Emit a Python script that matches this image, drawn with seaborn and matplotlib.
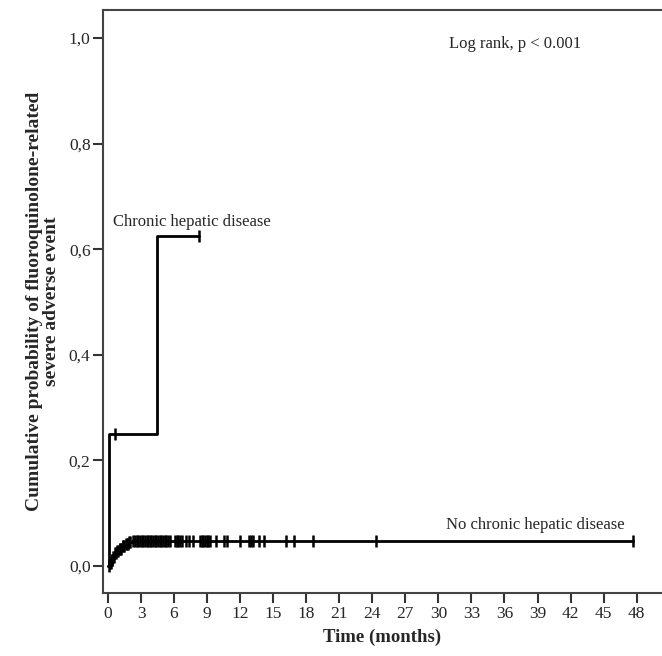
import numpy as np
import pandas as pd
import matplotlib
matplotlib.use("Agg")
import matplotlib.pyplot as plt
import seaborn as sns

# Kaplan-Meier style cumulative incidence curves (step functions)
chronic_times = [0.0, 0.12, 4.45, 8.3]
chronic_probs = [0.0, 0.25, 0.625, 0.625]
chronic_censored = [0.6, 8.3]

no_chronic_times = [0.0, 0.15, 0.3, 0.45, 0.6, 0.8, 1.0, 1.3, 1.6, 1.9, 2.2, 47.7]
no_chronic_probs = [0.0, 0.006, 0.012, 0.018, 0.025, 0.029, 0.033, 0.038, 0.042, 0.045, 0.048, 0.048]
no_chronic_censored = [
    0.1, 0.2, 0.25, 0.35, 0.4, 0.5, 0.55, 0.65, 0.7, 0.85, 0.9, 1.05, 1.1, 1.2,
    1.35, 1.4, 1.5, 1.65, 1.7, 1.8, 1.95, 2.0,
    2.3, 2.45, 2.6, 2.75, 2.9, 3.05, 3.2, 3.35, 3.5, 3.65, 3.8, 3.95, 4.1,
    4.25, 4.4, 4.55, 4.7, 4.85, 5.0, 5.15, 5.3, 5.45, 5.6,
    6.1, 6.25, 6.4, 6.55, 6.7, 7.1, 7.4, 7.7,
    8.35, 8.5, 8.65, 8.8, 8.95, 9.1, 9.25,
    9.8, 10.5, 10.8, 12.0, 12.8, 13.0, 13.2, 13.7, 14.2, 16.2, 16.9, 18.6, 24.3, 47.7,
]

x_ticks = list(range(0, 49, 3))
y_ticks = [0.0, 0.2, 0.4, 0.6, 0.8, 1.0]
y_tick_labels = ["0,0", "0,2", "0,4", "0,6", "0,8", "1,0"]

sns.set_theme(style="white")
plt.rcParams["font.family"] = ["Liberation Serif", "DejaVu Serif"]

fig = plt.figure(figsize=(6.62, 6.56), dpi=100)
ax = fig.add_axes([103 / 662, 1 - 593 / 656, 1 - 103 / 662, (593 - 10) / 656])


def step_value(times, probs, t):
    idx = np.searchsorted(times, t, side="right") - 1
    return np.asarray(probs)[idx]


curves = [
    (chronic_times, chronic_probs, chronic_censored),
    (no_chronic_times, no_chronic_probs, no_chronic_censored),
]
for times, probs, cens in curves:
    df = pd.DataFrame({"t": times, "p": probs})
    sns.lineplot(data=df, x="t", y="p", drawstyle="steps-post", estimator=None,
                 color="black", linewidth=2.0, ax=ax)
    cdf = pd.DataFrame({"t": cens, "p": step_value(times, probs, cens)})
    sns.scatterplot(data=cdf, x="t", y="p", marker="|", s=80, linewidth=1.8,
                    color="black", ax=ax, zorder=3)

ax.set_xlim(-0.45, 50.3)
ax.set_ylim(-0.051, 1.053)
ax.set_xticks(x_ticks)
ax.set_xticklabels([str(v) for v in x_ticks])
ax.set_yticks(y_ticks)
ax.set_yticklabels(y_tick_labels)
ax.tick_params(axis="both", which="major", direction="out", length=7, width=1.5,
               color="#333333", labelsize=12.5, pad=2, bottom=True, left=True)

for side in ["left", "bottom", "top"]:
    ax.spines[side].set_visible(True)
    ax.spines[side].set_color("#444444")
    ax.spines[side].set_linewidth(1.5)
ax.spines["right"].set_visible(False)

ax.set_xlabel("Time (months)", fontsize=13.5, fontweight="bold", labelpad=5)
ax.set_ylabel("Cumulative probability of fluoroquinolone-related\nsevere adverse event",
              fontsize=14, fontweight="bold", labelpad=6, linespacing=1.0)

ax.text(0.45, 0.651, "Chronic hepatic disease", fontsize=12, ha="left", va="center")
ax.text(30.7, 0.078, "No chronic hepatic disease", fontsize=12, ha="left", va="center")
ax.text(31.0, 0.989, "Log rank, p < 0.001", fontsize=12, ha="left", va="center")

fig.savefig("out.png", dpi=100)
